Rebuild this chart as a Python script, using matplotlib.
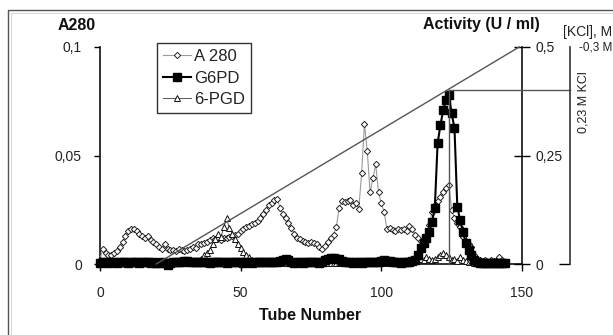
import matplotlib
matplotlib.use("Agg")
import matplotlib.pyplot as plt
from matplotlib.patches import Rectangle

plt.rcParams['font.family'] = ['Liberation Sans', 'DejaVu Sans']

# ---------------- data ----------------
tubes = list(range(145))

a280 = [
    0.002, 0.007, 0.005, 0.004, 0.004, 0.005, 0.006, 0.008, 0.010, 0.013,
    0.015, 0.016, 0.016, 0.015, 0.014, 0.013, 0.012, 0.013, 0.011, 0.010,
    0.009, 0.008, 0.007, 0.009, 0.007, 0.0065, 0.0065, 0.006, 0.007, 0.0065,
    0.006, 0.0065, 0.007, 0.008, 0.0075, 0.009, 0.009, 0.0095, 0.010, 0.011,
    0.012, 0.0115, 0.012, 0.011, 0.012, 0.012, 0.0125, 0.013, 0.0135, 0.014,
    0.015, 0.016, 0.017, 0.0175, 0.0185, 0.019, 0.020, 0.021, 0.023, 0.025,
    0.027, 0.028, 0.0295, 0.030, 0.026, 0.023, 0.021, 0.019, 0.0165, 0.014,
    0.012, 0.0115, 0.0105, 0.010, 0.0095, 0.010, 0.0095, 0.009, 0.008, 0.007,
    0.0085, 0.010, 0.012, 0.0135, 0.017, 0.026, 0.029, 0.0285, 0.029, 0.0295,
    0.027, 0.028, 0.0255, 0.042, 0.0645, 0.052, 0.033, 0.0395, 0.046, 0.033,
    0.028, 0.024, 0.016, 0.0165, 0.0155, 0.015, 0.016, 0.0155, 0.016, 0.015,
    0.0175, 0.016, 0.0135, 0.012, 0.0105, 0.0095, 0.012, 0.018, 0.024, 0.027,
    0.029, 0.031, 0.033, 0.035, 0.0365, 0.025, 0.021, 0.019, 0.017, 0.0125,
    0.0105, 0.009, 0.008, 0.004, 0.0025, 0.002, 0.0015, 0.002, 0.001, 0.002,
    0.0015, 0.002, 0.003, 0.002, 0.001,
]

g6pd = [
    0.003, 0.005, 0.004, 0.003, 0.005, 0.004, 0.003, 0.004, 0.005, 0.004,
    0.003, 0.004, 0.005, 0.004, 0.003, 0.004, 0.004, 0.005, 0.003, 0.004,
    0.003, 0.003, 0.004, 0.002, -0.002, 0.003, 0.004, 0.005, 0.004, 0.004,
    0.008, 0.006, 0.005, 0.004, 0.005, 0.004, 0.005, 0.004, 0.004, 0.003,
    0.004, 0.004, 0.005, 0.004, 0.004, 0.003, 0.004, 0.004, 0.005, 0.004,
    0.004, 0.003, 0.004, 0.004, 0.003, 0.004, 0.004, 0.005, 0.004, 0.004,
    0.004, 0.005, 0.005, 0.004, 0.006, 0.010, 0.011, 0.009, 0.004, 0.003,
    0.004, 0.004, 0.003, 0.004, 0.004, 0.005, 0.004, 0.004, 0.003, 0.005,
    0.010, 0.012, 0.013, 0.013, 0.012, 0.011, 0.008, 0.005, 0.004, 0.004,
    0.003, 0.004, 0.004, 0.003, 0.004, 0.004, 0.005, 0.004, 0.004, 0.005,
    0.008, 0.009, 0.008, 0.007, 0.005, 0.004, 0.004, 0.003, 0.004, 0.004,
    0.005, 0.006, 0.010, 0.021, 0.036, 0.048, 0.059, 0.074, 0.097, 0.128,
    0.278, 0.320, 0.355, 0.378, 0.389, 0.347, 0.313, 0.132, 0.101, 0.074,
    0.048, 0.032, 0.020, 0.010, 0.005, 0.003, 0.002, 0.003, 0.002, 0.002,
    0.003, 0.002, 0.002, 0.003, 0.002,
]

pgd = [
    0.003, 0.002, 0.003, 0.002, 0.003, 0.002, 0.002, 0.003, 0.002, 0.002,
    0.002, 0.003, 0.002, 0.002, 0.003, 0.002, 0.002, 0.003, 0.002, 0.002,
    0.002, 0.003, 0.002, 0.002, 0.003, 0.002, 0.002, 0.003, 0.002, 0.003,
    0.003, 0.004, 0.003, 0.004, 0.005, 0.007, 0.012, 0.020, 0.026, 0.033,
    0.045, 0.058, 0.070, 0.062, 0.085, 0.105, 0.082, 0.070, 0.058, 0.045,
    0.036, 0.028, 0.020, 0.015, 0.010, 0.007, 0.005, 0.004, 0.003, 0.003,
    0.003, 0.002, 0.003, 0.002, 0.003, 0.002, 0.003, 0.002, 0.002, 0.003,
    0.002, 0.003, 0.002, 0.002, 0.003, 0.002, 0.003, 0.002, 0.002, 0.003,
    0.002, 0.003, 0.002, 0.002, 0.003, 0.002, 0.003, 0.002, 0.002, 0.003,
    0.002, 0.003, 0.002, 0.002, 0.003, 0.002, 0.003, 0.002, 0.002, 0.003,
    0.002, 0.003, 0.002, 0.002, 0.003, 0.002, 0.003, 0.002, 0.002, 0.003,
    0.005, 0.010, 0.015, 0.020, 0.012, 0.010, 0.015, 0.012, 0.010, 0.012,
    0.015, 0.020, 0.025, 0.020, 0.015, 0.010, 0.012, 0.008, 0.015, 0.010,
    0.006, 0.004, 0.004, 0.003, 0.004, 0.003, 0.004, 0.003, 0.004, 0.003,
    0.004, 0.003, 0.004, 0.003, 0.003,
]

# KCl gradient (tube, molarity)
gradient_tubes = [20, 149]
gradient_kcl = [0.0, 0.3]
peak_tube = 124
peak_kcl = 0.241

x_ticks = [0, 50, 100, 150]
x_labels = ['0', '50', '100', '150']
a_ticks = [0, 0.05, 0.1]
a_labels = ['0', '0,05', '0,1']
act_ticks = [0, 0.25, 0.5]
act_labels = ['0', '0,25', '0,5']
series_names = ['A 280', 'G6PD', '6-PGD']

# ---------------- figure ----------------
W, H = 613, 335
fig = plt.figure(figsize=(W / 100, H / 100), dpi=100)
fig.patch.set_facecolor('white')

def fx(px):
    return px / W

def fy(py):
    return 1 - py / H

# chart-area frame (extends beyond image at right/bottom)
fig.patches.append(Rectangle((fx(7.5), -0.2), 1.2, fy(10) + 0.2, transform=fig.transFigure,
                             fill=False, edgecolor='#555555', lw=1.0, zorder=0))
fig.patches.append(Rectangle((fx(11), -0.2), 1.2, fy(13) + 0.2, transform=fig.transFigure,
                             fill=False, edgecolor='#d8d8d8', lw=0.8, zorder=0))

L, R, T, B = 100, 522, 47, 264
ax = fig.add_axes([fx(L), fy(B), (R - L) / W, (B - T) / H])
ax.set_facecolor('none')
ax.set_xlim(0, 150)
ax.set_ylim(0, 0.1)
ax2 = ax.twinx()
ax2.set_ylim(0, 0.5)
ax3 = ax.twinx()
ax3.set_ylim(0, 0.3)
spine3_frac = (570 - L) / (R - L)
ax3.spines['right'].set_position(('axes', spine3_frac))

tick_color = '#222222'
for a in (ax, ax2, ax3):
    for s in a.spines.values():
        s.set_color('#111111')
        s.set_linewidth(1.2)
ax.spines['top'].set_visible(False)
ax.spines['right'].set_visible(False)
for s in ('top', 'left', 'bottom'):
    ax2.spines[s].set_visible(False)
    ax3.spines[s].set_visible(False)
ax3.spines['right'].set_color('#333333')

ax.set_xticks(x_ticks)
ax.set_xticklabels(x_labels)
ax.set_yticks(a_ticks)
ax.set_yticklabels(a_labels)
ax.tick_params(axis='x', direction='out', length=5, width=1, pad=11, labelsize=10, labelcolor=tick_color)
ax.tick_params(axis='y', direction='out', length=4, width=1, pad=9, labelsize=10, labelcolor=tick_color)
ax2.set_yticks(act_ticks)
ax2.set_yticklabels(act_labels)
ax2.tick_params(axis='y', direction='inout', length=12, width=1, pad=4, labelsize=10, labelcolor=tick_color)
ax3.set_yticks([0])
ax3.set_yticklabels([''])
ax3.tick_params(axis='y', direction='in', length=8, width=1)

# series
l_a, = ax.plot(tubes, a280, color='#9a9a9a', lw=0.8, marker='D', ms=3.2, mfc='white',
               mec='#222222', mew=0.7, clip_on=False, zorder=3, label=series_names[0])
l_p, = ax2.plot(tubes, pgd, color='#555555', lw=0.7, marker='^', ms=4.5, mfc='white',
                mec='#111111', mew=0.7, clip_on=False, zorder=3, label=series_names[2])
l_g, = ax2.plot(tubes, g6pd, color='black', lw=1.5, marker='s', ms=5.5, mfc='black',
                mec='black', clip_on=False, zorder=4, label=series_names[1])

# KCl gradient and peak markers
ax3.plot(gradient_tubes, gradient_kcl, color='#555555', lw=1.0, clip_on=False)
x_spine3 = 150 * spine3_frac
ax3.plot([peak_tube, peak_tube], [0, peak_kcl], color='#555555', lw=1.0, clip_on=False)
ax3.plot([peak_tube, x_spine3], [peak_kcl, peak_kcl], color='#555555', lw=1.0, clip_on=False)

# legend
leg = fig.legend(handles=[l_a, l_g, l_p], labels=series_names, loc='upper left',
                 bbox_to_anchor=(fx(157), fy(43)), fontsize=12, frameon=True, fancybox=False,
                 handlelength=1.7, handletextpad=0.2, borderpad=0.35, labelspacing=0.4,
                 borderaxespad=0)
leg.get_frame().set_edgecolor('black')
leg.get_frame().set_linewidth(1.0)
for t in leg.get_texts():
    t.set_color('#222222')

# titles / labels
fig.text(fx(77), fy(26), 'A280', ha='center', va='center', fontsize=11.5, fontweight='bold', color='#111111')
fig.text(fx(481), fy(25), 'Activity (U / ml)', ha='center', va='center', fontsize=11.5,
         fontweight='bold', color='#111111')
fig.text(fx(310), fy(316), 'Tube Number', ha='center', va='center', fontsize=11.5,
         fontweight='bold', color='#111111')
fig.text(fx(563), fy(32), '[KCl], M', ha='left', va='center', fontsize=10, color='#222222')
fig.text(fx(579), fy(47), '-0,3 M', ha='left', va='center', fontsize=8.5, color='#222222')
fig.text(fx(583), fy(102), '0,23 M KCl', ha='center', va='center', rotation=90,
         fontsize=9, color='#222222')

fig.savefig('out.png', dpi=100, facecolor='white')
